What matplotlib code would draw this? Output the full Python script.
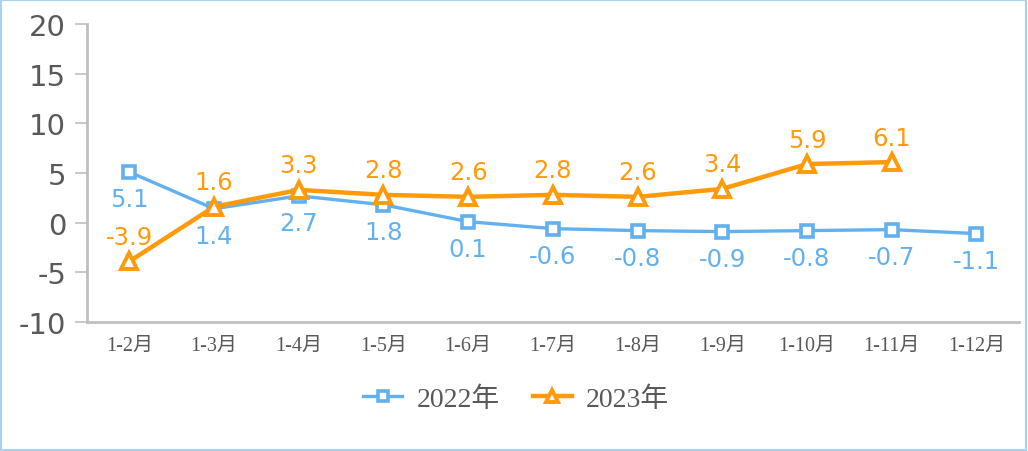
import matplotlib
matplotlib.use("Agg")
import matplotlib.pyplot as plt
from matplotlib.patches import Rectangle

categories = ["1-2月", "1-3月", "1-4月", "1-5月", "1-6月", "1-7月", "1-8月", "1-9月", "1-10月", "1-11月", "1-12月"]
s2022 = [5.1, 1.4, 2.7, 1.8, 0.1, -0.6, -0.8, -0.9, -0.8, -0.7, -1.1]
s2023 = [-3.9, 1.6, 3.3, 2.8, 2.6, 2.8, 2.6, 3.4, 5.9, 6.1]
yticks = [-10, -5, 0, 5, 10, 15, 20]

blue = "#62B1EE"
orange = "#FF9A0A"
grey_txt = "#595959"
serif_cjk = ["Liberation Serif", "Noto Sans CJK SC"]

fig = plt.figure(figsize=(10.28, 4.52), dpi=100)
ax = fig.add_axes([0.0846, 0.2854, 0.9064, 0.6593])

x22 = list(range(len(s2022)))
x23 = list(range(len(s2023)))
ax.plot(x22, s2022, color=blue, lw=2.4, marker="s", ms=9, mfc="white",
        mec=blue, mew=2.6, label="2022年", zorder=3)
ax.plot(x23, s2023, color=orange, lw=3.2, marker="^", ms=12, mfc="white",
        mec=orange, mew=2.8, label="2023年", zorder=4)

for x, v in zip(x22, s2022):
    ax.annotate(f"{v:.1f}", (x, v), xytext=(0, -11), textcoords="offset points",
                ha="center", va="top", color=blue, fontsize=17.5, family="DejaVu Sans")
for x, v in zip(x23, s2023):
    ax.annotate(f"{v:.1f}", (x, v), xytext=(0, 9), textcoords="offset points",
                ha="center", va="bottom", color=orange, fontsize=17.5, family="DejaVu Sans")

ax.set_xlim(-0.5, len(categories) - 0.5)
ax.set_ylim(-10, 20)
ax.set_yticks(yticks)
ax.set_yticklabels([str(t) for t in yticks], fontsize=21, color=grey_txt, family="DejaVu Sans")
ax.set_xticks(range(len(categories)))
ax.set_xticklabels(categories, fontsize=14.5, color=grey_txt, family=serif_cjk)
ax.tick_params(axis="x", length=0, pad=10)
ax.tick_params(axis="y", length=9, width=1.2, color="#BFBFBF", pad=6)

for s in ["top", "right"]:
    ax.spines[s].set_visible(False)
for s in ["left", "bottom"]:
    ax.spines[s].set_color("#BFBFBF")
    ax.spines[s].set_linewidth(2)

leg = fig.legend(loc="center", bbox_to_anchor=(0.502, 0.115), ncol=2, frameon=False,
                 prop={"family": serif_cjk, "size": 20}, handlelength=1.4,
                 columnspacing=1.2, handletextpad=0.5, markerscale=0.75)
for t in leg.get_texts():
    t.set_color(grey_txt)

fig.patches.append(Rectangle((0.001, 0.002), 0.997, 0.995, transform=fig.transFigure,
                             fill=False, edgecolor="#A9D0F5", lw=1.5))

fig.savefig("out.png", dpi=100)
